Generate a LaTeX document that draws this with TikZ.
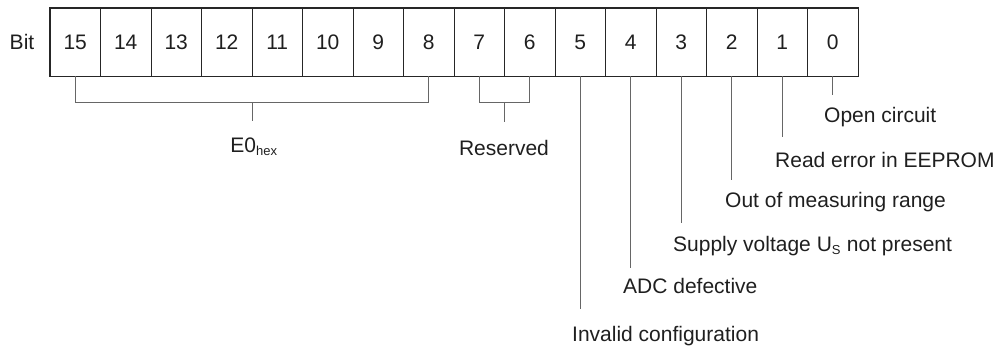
\documentclass[tikz,border=0pt]{standalone}
\usepackage{fontspec}
\setmainfont{Liberation Sans}
\begin{document}
\begin{tikzpicture}[x=1pt, y=-1pt, font=\fontsize{21}{25}\selectfont, text=black!88,
  bitcell/.style={shape=rectangle, draw=black!85, thick, minimum width=50.5pt, minimum height=68pt, inner sep=0pt},
  lead/.style={draw=black!60, thick},
  desc/.style={anchor=base west, inner sep=0pt}]
\useasboundingbox (0,0) rectangle (997,346);
\node[anchor=base, inner sep=0pt] (bit) at (22,49.5) {Bit};
\node[bitcell] (15) at (75.25,42) {15};
\node[bitcell] (14) at (125.75,42) {14};
\node[bitcell] (13) at (176.25,42) {13};
\node[bitcell] (12) at (226.75,42) {12};
\node[bitcell] (11) at (277.25,42) {11};
\node[bitcell] (10) at (327.75,42) {10};
\node[bitcell] (9) at (378.25,42) {9};
\node[bitcell] (8) at (428.75,42) {8};
\node[bitcell] (7) at (479.25,42) {7};
\node[bitcell] (6) at (529.75,42) {6};
\node[bitcell] (5) at (580.25,42) {5};
\node[bitcell] (4) at (630.75,42) {4};
\node[bitcell] (3) at (681.25,42) {3};
\node[bitcell] (2) at (731.75,42) {2};
\node[bitcell] (1) at (782.25,42) {1};
\node[bitcell] (0) at (832.75,42) {0};
\draw[black!85, very thick] (15.north west) rectangle (0.south east);
% labels
\node[anchor=base, inner sep=0pt] (e0) at (254,152) {E0\textsubscript{\fontsize{13}{15}\selectfont hex}};
\node[anchor=base, inner sep=0pt] (res) at (504,155) {Reserved};
\node[desc] (open) at (824,122) {Open circuit};
\node[desc] (eeprom) at (775,167) {Read error in EEPROM};
\node[desc] (range) at (725,207) {Out of measuring range};
\node[desc] (supply) at (673,251) {Supply voltage U\textsubscript{\fontsize{13}{15}\selectfont S} not present};
\node[desc] (adc) at (623,293) {ADC defective};
\node[desc] (config) at (572,341) {Invalid configuration};
% brackets
\coordinate (hb) at (252,102);
\coordinate (ht) at (252,121);
\coordinate (rb) at (504.5,102);
\coordinate (rt) at (504.5,122);
\path [lead] (15.south) -- (15.south |- hb) -- (8.south |- hb) -- (8.south);
\path [lead] (hb) -- (ht);
\path [lead] (7.south) -- (7.south |- rb) -- (6.south |- rb) -- (6.south);
\path [lead] (rb) -- (rt);
% leader lines
\coordinate (l0) at (832.75,95);
\coordinate (l1) at (782.25,137);
\coordinate (l2) at (731.75,180);
\coordinate (l3) at (681.25,223);
\coordinate (l4) at (630.75,268);
\coordinate (l5) at (580.25,309);
\path [lead] (0) -- (l0);
\path [lead] (1) -- (l1);
\path [lead] (2) -- (l2);
\path [lead] (3) -- (l3);
\path [lead] (4) -- (l4);
\path [lead] (5) -- (l5);
\end{tikzpicture}
\end{document}
